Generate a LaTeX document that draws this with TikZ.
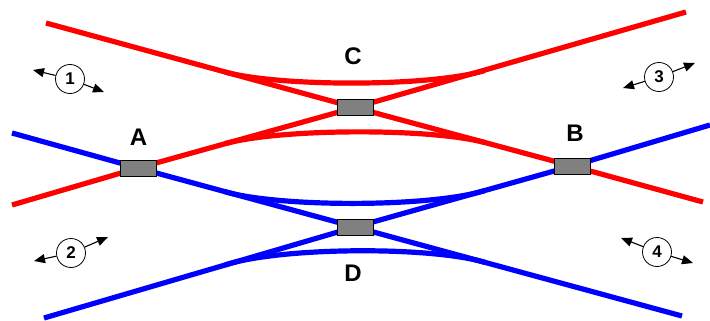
\documentclass[tikz,border=0pt]{standalone}
\usepackage{fontspec}
\setmainfont{Liberation Sans}
\usetikzlibrary{arrows.meta,backgrounds}
\definecolor{trackred}{RGB}{255,0,0}
\definecolor{trackblue}{RGB}{0,0,255}
\definecolor{boxgray}{RGB}{128,128,128}
\tikzset{
  redtrack/.style={draw=trackred,line width=5.2pt,line join=round},
  bluetrack/.style={draw=trackblue,line width=5.2pt,line join=round},
  switchbox/.style={rectangle,fill=boxgray,draw=black,line width=0.6pt,
    minimum width=36pt,minimum height=16pt,inner sep=0pt},
  letter/.style={font=\bfseries\fontsize{24}{24}\selectfont,inner sep=0pt},
  zone/.style={circle,draw=black,line width=0.8pt,minimum size=29pt,inner sep=0pt,
    font=\bfseries\fontsize{17}{17}\selectfont},
  dirarrow/.style={draw=black,line width=1.1pt,-{Triangle[length=11pt,width=9pt]}}
}
\begin{document}
\begin{tikzpicture}[x=1pt,y=-1pt]
  \useasboundingbox (0,0) rectangle (710,321);

  % switch boxes
  \node[switchbox] (A) at (138,168) {};
  \node[switchbox] (C) at (355,107.5) {};
  \node[switchbox] (B) at (572,166) {};
  \node[switchbox] (D) at (355,227) {};

  % free ends of the straight tracks
  \coordinate (r1s) at (46,23);   \coordinate (r1e) at (703,202);
  \coordinate (r2s) at (12,205);  \coordinate (r2e) at (686,12);
  \coordinate (b1s) at (12,133);  \coordinate (b1e) at (682,316);
  \coordinate (b2s) at (44,318);  \coordinate (b2e) at (710,125);

  % ends of the curved tracks, lying on the straight tracks
  \coordinate (rc1a) at (225,72);    \coordinate (rc1b) at (485,70.5);
  \coordinate (rc2a) at (225,143.7); \coordinate (rc2b) at (485,142.6);
  \coordinate (bc1a) at (225,191.7); \coordinate (bc1b) at (485,190.5);
  \coordinate (bc2a) at (225,265);   \coordinate (bc2b) at (485,262.4);

  \begin{scope}[on background layer]
    \draw[redtrack] (r1s) -- (C.center) -- (B.center) -- (r1e);
    \draw[redtrack] (r2s) -- (A.center) -- (C.center) -- (r2e);
    \draw[redtrack] (rc1a) .. controls (280,87) and (430,87) .. (rc1b);
    \draw[redtrack] (rc2a) .. controls (280,128.4) and (430,127.8) .. (rc2b);
    \draw[bluetrack] (b1s) -- (A.center) -- (D.center) -- (b1e);
    \draw[bluetrack] (b2s) -- (D.center) -- (B.center) -- (b2e);
    \draw[bluetrack] (bc1a) .. controls (280,207.5) and (430,207.5) .. (bc1b);
    \draw[bluetrack] (bc2a) .. controls (280,247) and (430,246) .. (bc2b);
  \end{scope}

  % switch labels
  \node[letter] (lA) at (138.5,137.5) {A};
  \node[letter] (lB) at (575,133.5) {B};
  \node[letter] (lC) at (353,56) {C};
  \node[letter] (lD) at (353,273) {D};

  % zone markers with their direction arrows
  \node[zone] (z1) at (70,79) {1};
  \coordinate (z1l) at (33,70);  \coordinate (z1r) at (104,92);
  \draw[dirarrow] (z1) -- (z1l);
  \draw[dirarrow] (z1) -- (z1r);

  \node[zone] (z2) at (71,253) {2};
  \coordinate (z2l) at (34,261); \coordinate (z2r) at (108,237);
  \draw[dirarrow] (z2) -- (z2l);
  \draw[dirarrow] (z2) -- (z2r);

  \node[zone] (z3) at (659,77) {3};
  \coordinate (z3l) at (623,88); \coordinate (z3r) at (695,63);
  \draw[dirarrow] (z3) -- (z3l);
  \draw[dirarrow] (z3) -- (z3r);

  \node[zone] (z4) at (657,252) {4};
  \coordinate (z4l) at (621,238); \coordinate (z4r) at (693,263);
  \draw[dirarrow] (z4) -- (z4l);
  \draw[dirarrow] (z4) -- (z4r);
\end{tikzpicture}
\end{document}
